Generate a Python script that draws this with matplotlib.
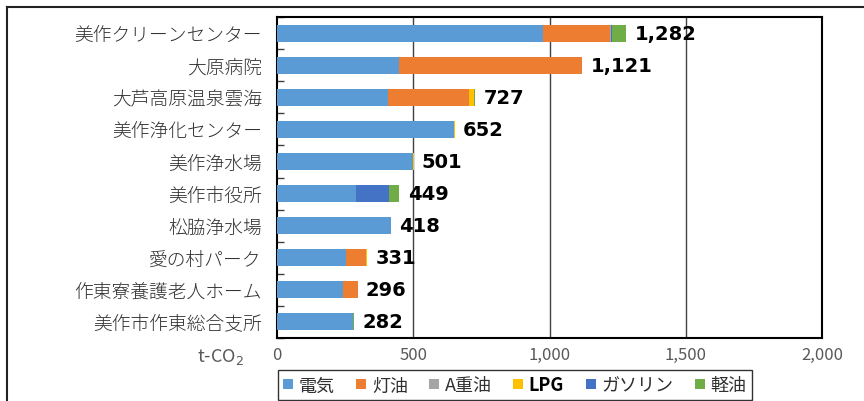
import matplotlib
matplotlib.use("Agg")
import matplotlib.pyplot as plt
from matplotlib.patches import Patch
from matplotlib.lines import Line2D
import numpy as np

plt.rcParams['font.family'] = ['Noto Sans CJK JP', 'DejaVu Sans']

categories = ["美作クリーンセンター", "大原病院", "大芦高原温泉雲海", "美作浄化センター",
              "美作浄水場", "美作市役所", "松脇浄水場", "愛の村パーク",
              "作東寮養護老人ホーム", "美作市作東総合支所"]
series_names = ["電気", "灯油", "A重油", "LPG", "ガソリン", "軽油"]
denki    = [977, 449, 406, 650, 500, 289, 418, 253, 243, 280]
touyu    = [245, 669, 298, 0, 0, 0, 0, 73, 53, 0]
a_juyu   = [3, 0, 0, 0, 0, 0, 0, 0, 0, 0]
lpg      = [0, 0, 19, 2, 1, 0, 0, 3, 0, 0]
gasoline = [5, 3, 0, 0, 0, 123, 0, 0, 0, 0]
keiyu    = [52, 0, 4, 0, 0, 37, 0, 2, 0, 2]
totals   = [1282, 1121, 727, 652, 501, 449, 418, 331, 296, 282]
total_labels = ["1,282", "1,121", "727", "652", "501", "449", "418", "331", "296", "282"]
x_ticks = [0, 500, 1000, 1500, 2000]
x_tick_labels = ["0", "500", "1,000", "1,500", "2,000"]

colors = ["#5B9BD5", "#ED7D31", "#A5A5A5", "#FFC000", "#4472C4", "#70AD47"]
series = [denki, touyu, a_juyu, lpg, gasoline, keiyu]

W, H = 864, 402
fig = plt.figure(figsize=(W / 100, H / 100), dpi=100)
ax = fig.add_axes([277 / W, 1 - 339 / H, (822 - 277) / W, (339 - 18) / H])

y = np.arange(len(categories))
left = np.zeros(len(categories))
for vals, c in zip(series, colors):
    v = np.array(vals, dtype=float)
    ax.barh(y, v, left=left, height=0.53, color=c, edgecolor='none', zorder=3)
    left += v

for yi, tot, lab in zip(y, totals, total_labels):
    ax.annotate(lab, xy=(tot, yi), xytext=(6, 0), textcoords='offset points',
                va='center', ha='left', fontsize=14, fontweight='bold',
                family=['DejaVu Sans'], color='black')

ax.set_xlim(0, 2000)
ax.set_ylim(len(categories) - 0.5, -0.5)
ax.set_yticks(y)
ax.set_yticklabels(categories, fontsize=13.5, color='#303030', fontweight='light')
ax.set_yticks(np.arange(len(categories) + 1) - 0.5, minor=True)
ax.tick_params(axis='y', which='major', length=0, pad=11)
ax.tick_params(axis='y', which='minor', direction='in', length=5, width=1, color='#404040')
ax.set_xticks(x_ticks)
ax.set_xticklabels(x_tick_labels, fontsize=12, color='#595959')
ax.tick_params(axis='x', length=0, pad=6)
for xv in x_ticks[1:-1]:
    ax.axvline(xv, color='#404040', lw=1.0, zorder=1)
for s in ax.spines.values():
    s.set_color('black')
    s.set_linewidth(1.5)

fig.text(220 / W, 1 - 357 / H, 't-CO$_2$', fontsize=13, color='#595959',
         ha='center', va='center')

handles = [Patch(facecolor=c, edgecolor='none') for c in colors]
leg = fig.legend(handles, series_names, loc='upper left',
                 bbox_to_anchor=(278 / W, 1 - 371 / H), ncol=6,
                 frameon=True, fancybox=False, edgecolor='black',
                 fontsize=13, handlelength=0.55, handleheight=0.55,
                 handletextpad=0.3, columnspacing=1.2, borderpad=0.3,
                 borderaxespad=0)
leg.get_frame().set_linewidth(1.0)
for t in leg.get_texts():
    t.set_color('#303030')
    if t.get_text() == "LPG":
        t.set_fontweight('bold')
        t.set_color('black')

# figure border (top and left visible)
fig.add_artist(Line2D([7 / W, 1], [1 - 8 / H, 1 - 8 / H], color='#222222', lw=1.5,
                      transform=fig.transFigure))
fig.add_artist(Line2D([7 / W, 7 / W], [0, 1 - 8 / H], color='#222222', lw=1.5,
                      transform=fig.transFigure))

fig.savefig("out.png", dpi=100)
